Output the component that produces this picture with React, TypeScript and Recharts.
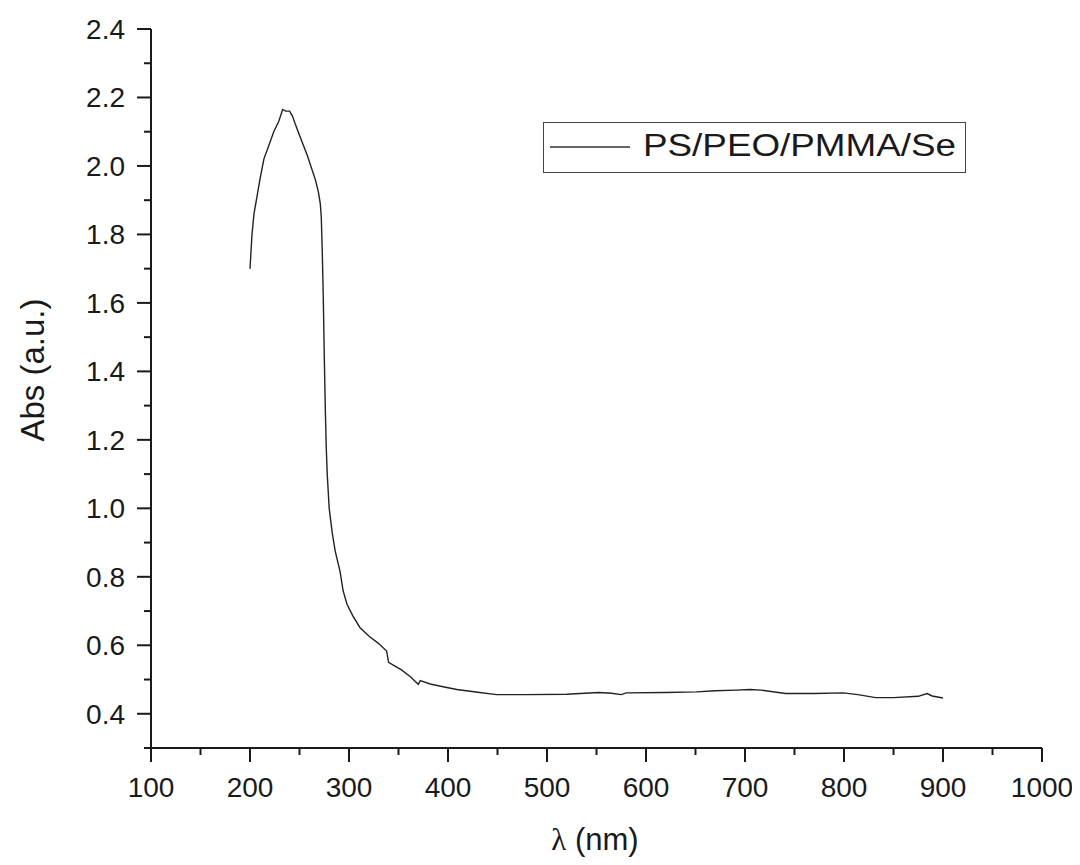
import React from 'react';
import { LineChart, Line, XAxis, YAxis, Legend } from 'recharts';

const wavelength = [
  200, 202, 204, 207, 210, 214, 219, 224, 229, 233, 236, 240, 243, 246, 250, 254, 258, 262, 266, 269,
  271, 272, 273, 274, 275, 276, 277, 278, 280, 283, 286, 291, 294, 298, 304, 311, 320, 330, 338, 340,
  346, 353, 362, 370, 372, 382, 395, 409, 430, 449, 480, 520, 552, 565, 575, 580, 620, 651, 670, 691,
  705, 716, 741, 770, 799, 814, 832, 850, 875, 884, 889, 900,
];
const absorbance = [
  1.70, 1.80, 1.86, 1.91, 1.96, 2.02, 2.06, 2.10, 2.13, 2.165, 2.16, 2.16, 2.145, 2.12, 2.09, 2.06, 2.03, 1.995, 1.96, 1.925,
  1.89, 1.85, 1.75, 1.62, 1.45, 1.30, 1.18, 1.10, 1.00, 0.93, 0.876, 0.815, 0.76, 0.72, 0.685, 0.652, 0.627, 0.605, 0.583, 0.55,
  0.54, 0.528, 0.508, 0.486, 0.497, 0.487, 0.479, 0.471, 0.463, 0.456, 0.456, 0.457, 0.462, 0.460, 0.456, 0.461, 0.462, 0.464, 0.467, 0.469,
  0.471, 0.469, 0.459, 0.459, 0.461, 0.456, 0.447, 0.447, 0.451, 0.459, 0.452, 0.446,
];
const xMajorTicks = [100, 200, 300, 400, 500, 600, 700, 800, 900, 1000];
const xMinorTicks = [150, 250, 350, 450, 550, 650, 750, 850, 950];
const yMajorTicks = [0.4, 0.6, 0.8, 1.0, 1.2, 1.4, 1.6, 1.8, 2.0, 2.2, 2.4];
const yMinorTicks = [0.3, 0.5, 0.7, 0.9, 1.1, 1.3, 1.5, 1.7, 1.9, 2.1, 2.3];
const seriesName = 'PS/PEO/PMMA/Se';

const data = wavelength.map((w, i) => ({ w, a: absorbance[i] }));
const xTicks = [...xMajorTicks, ...xMinorTicks].sort((a, b) => a - b);
const yTicks = [...yMinorTicks, ...yMajorTicks].sort((a, b) => a - b);

const W = 1072;
const H = 857;
const M = { top: 21, right: 38, left: 43, bottom: 57 };
const YW = 100;
const XH = 60;
const PLOT_LEFT = M.left + YW;
const AXIS_Y = H - M.bottom - XH;
const FONT = '"Liberation Sans", Arial, sans-serif';
const INK = '#1a1a1a';

const XTick = (props: any) => {
  const { x, payload } = props;
  const major = xMajorTicks.includes(payload.value);
  return (
    <g>
      <line x1={x} x2={x} y1={AXIS_Y} y2={AXIS_Y + (major ? 14 : 7)} stroke={INK} strokeWidth={2} />
      {major && (
        <text x={x} y={AXIS_Y + 49} textAnchor="middle" fontFamily={FONT} fontSize={28} fill={INK}>
          {payload.value}
        </text>
      )}
    </g>
  );
};

const YTick = (props: any) => {
  const { y, payload } = props;
  const major = yMajorTicks.some((v) => Math.abs(v - payload.value) < 1e-9);
  return (
    <g>
      <line x1={PLOT_LEFT} x2={PLOT_LEFT - (major ? 14 : 7)} y1={y} y2={y} stroke={INK} strokeWidth={2} />
      {major && (
        <text x={PLOT_LEFT - 26} y={y} dy={10} textAnchor="end" fontFamily={FONT} fontSize={28} fill={INK}>
          {payload.value.toFixed(1)}
        </text>
      )}
    </g>
  );
};

const LegendBox = () => (
  <div
    style={{
      width: 423,
      height: 51,
      boxSizing: 'border-box',
      border: '1.5px solid #444',
      background: '#fff',
    }}
  >
    <svg width={420} height={48} style={{ display: 'block' }}>
      <line x1={6} x2={86} y1={24} y2={24} stroke="#333" strokeWidth={1.5} />
      <text
        x={99}
        y={33}
        fontFamily={FONT}
        fontSize={31}
        fill={INK}
        textLength={313}
        lengthAdjust="spacingAndGlyphs"
      >
        {seriesName}
      </text>
    </svg>
  </div>
);

export default function App() {
  return (
    <LineChart width={W} height={H} data={data} margin={M} style={{ background: '#fff' }}>
      <XAxis
        dataKey="w"
        type="number"
        domain={[100, 1000]}
        ticks={xTicks}
        interval={0}
        height={XH}
        tickLine={false}
        axisLine={{ stroke: INK, strokeWidth: 2 }}
        tick={<XTick />}
        label={{
          content: () => (
            <text x={587} y={842} textAnchor="middle" fontFamily={FONT} fontSize={31} fill={INK}>
              <tspan fontFamily='"Liberation Serif", serif'>λ</tspan>
              <tspan> (nm)</tspan>
            </text>
          ),
        }}
      />
      <YAxis
        type="number"
        domain={[0.3, 2.4]}
        ticks={yTicks}
        interval={0}
        width={YW}
        tickLine={false}
        axisLine={{ stroke: INK, strokeWidth: 2 }}
        tick={<YTick />}
        label={{
          content: () => (
            <text
              x={24}
              y={362}
              transform="rotate(-90 24 362)"
              textAnchor="middle"
              dominantBaseline="central"
              fontFamily={FONT}
              fontSize={33}
              fill={INK}
            >
              Abs (a.u.)
            </text>
          ),
        }}
      />
      <Legend
        layout="vertical"
        verticalAlign="middle"
        align="center"
        wrapperStyle={{ left: 535, top: 114, width: 423, height: 51 }}
        content={<LegendBox />}
      />
      <Line
        dataKey="a"
        name={seriesName}
        stroke="#222"
        strokeWidth={1.4}
        dot={false}
        activeDot={false}
        type="linear"
        isAnimationActive={false}
      />
    </LineChart>
  );
}
